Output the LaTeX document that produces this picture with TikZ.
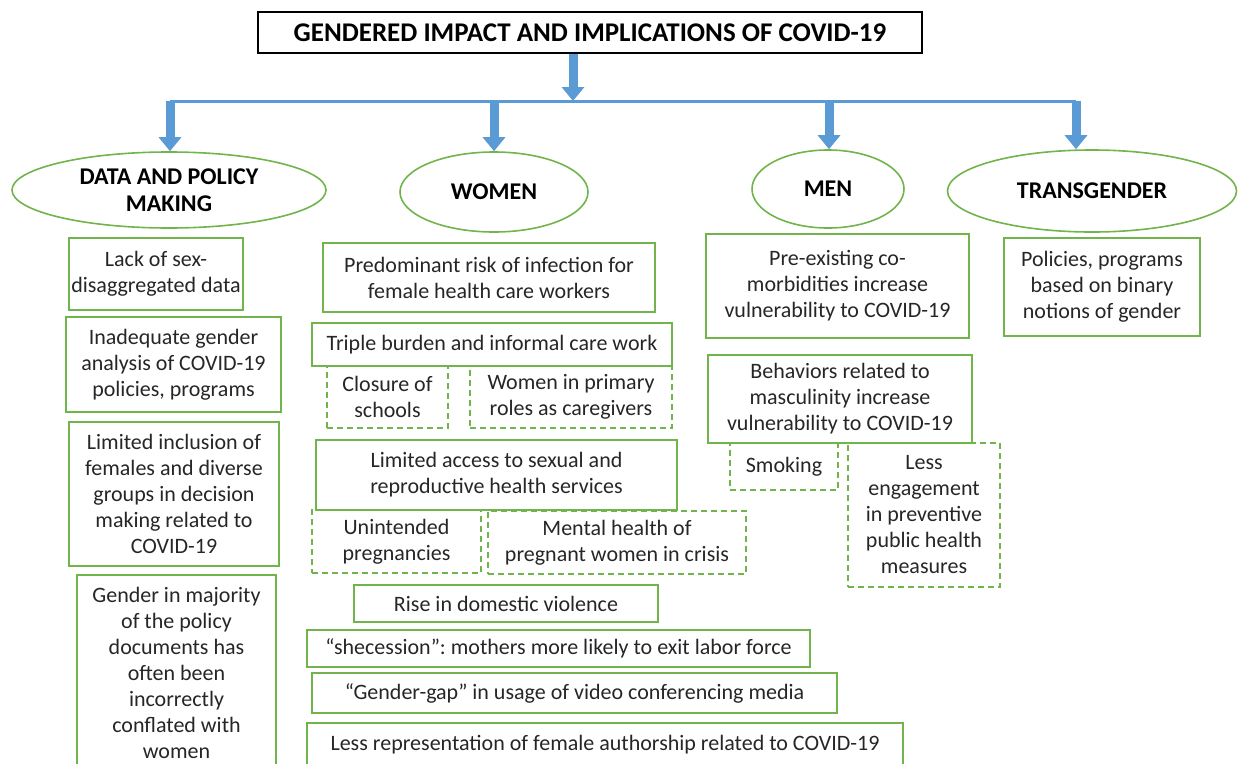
\documentclass[tikz,border=0pt]{standalone}
\usepackage{fontspec}
\setmainfont{Carlito}
\frenchspacing
\usetikzlibrary{shapes.geometric,arrows.meta}
\definecolor{boxgreen}{RGB}{112,180,75}
\definecolor{arrowblue}{RGB}{91,155,213}

\begin{document}
\begin{tikzpicture}[x=1pt,y=-1pt,
  txt/.style={font=\fontsize{22}{26}\selectfont, align=center, text=black!85},
  gbox/.style={txt, draw=boxgreen, line width=2pt, rectangle, inner sep=2pt},
  dbox/.style={gbox, dash pattern=on 6pt off 4pt},
  oval/.style={draw=boxgreen, line width=1.6pt, ellipse, inner sep=0pt, align=center, font=\fontsize{24}{27}\selectfont\bfseries},
  bluearrow/.style={draw=arrowblue, line width=9pt, -{Triangle[width=22pt,length=14pt]}}]
\useasboundingbox (0,0) rectangle (1241,763);

% title
\node[draw=black, line width=1.5pt, minimum width=664pt, minimum height=41pt, font=\fontsize{27}{30}\selectfont\bfseries] (title) at (590,32.5) {GENDERED IMPACT AND IMPLICATIONS OF COVID-19};

% groups
\node[oval, minimum width=314pt, minimum height=76pt] (data) at (169,190) {DATA AND POLICY\\MAKING};
\node[oval, minimum width=188pt, minimum height=80pt] (women) at (494,192) {WOMEN};
\node[oval, minimum width=152pt, minimum height=78pt] (men) at (828,189) {MEN};
\node[oval, minimum width=289pt, minimum height=82pt] (trans) at (1092,191) {TRANSGENDER};

% data and policy making
\node[gbox, minimum width=172pt, minimum height=72pt] (dlack) at (156,274) {Lack of sex-\\disaggregated data};
\node[gbox, minimum width=215pt, minimum height=95pt] (danalysis) at (173.5,364.5) {Inadequate gender\\analysis of COVID-19\\policies, programs};
\node[gbox, minimum width=210pt, minimum height=144pt] (dinclusion) at (174,494) {Limited inclusion of\\females and diverse\\groups in decision\\making related to\\COVID-19};
\node[gbox, minimum width=199pt, minimum height=195pt] (dconflated) at (176.5,672.5) {Gender in majority\\of the policy\\documents has\\often been\\incorrectly\\conflated with\\women};

% women
\node[gbox, minimum width=332pt, minimum height=69pt] (wrisk) at (489,277.5) {Predominant risk of infection for\\female health care workers};
\node[gbox, minimum width=360pt, minimum height=43pt] (wtriple) at (492,344.5) {Triple burden and informal care work};
\node[dbox, minimum width=121pt, minimum height=62pt] (wschools) at (387.5,397) {Closure of\\schools};
\node[dbox, minimum width=202pt, minimum height=62pt] (wcaregivers) at (571,397) {Women in primary\\roles as caregivers};
\node[gbox, minimum width=361pt, minimum height=70pt] (waccess) at (496.5,475) {Limited access to sexual and\\reproductive health services};
\node[dbox, minimum width=169pt, minimum height=63pt] (wpregnancies) at (396.5,541.5) {Unintended\\pregnancies};
\node[dbox, minimum width=258pt, minimum height=63pt] (wmental) at (617,542.5) {Mental health of\\pregnant women in crisis};
\node[gbox, minimum width=304pt, minimum height=37pt] (wviolence) at (506,603.5) {Rise in domestic violence};
\node[gbox, minimum width=503pt, minimum height=37pt] (wshecession) at (558.5,648.5) {“shecession”: mothers more likely to exit labor force};
\node[gbox, minimum width=525pt, minimum height=40pt] (wgap) at (574.5,693) {“Gender-gap” in usage of video conferencing media};
\node[gbox, minimum width=596pt, minimum height=44pt] (wauthorship) at (605,745) {Less representation of female authorship related to COVID-19};

% men
\node[gbox, minimum width=263pt, minimum height=104pt] (mcomorbid) at (837.5,286) {Pre-existing co-\\morbidities increase\\vulnerability to COVID-19};
\node[gbox, minimum width=264pt, minimum height=88pt] (mbehavior) at (840,399) {Behaviors related to\\masculinity increase\\vulnerability to COVID-19};
\node[dbox, minimum width=108pt, minimum height=47pt] (msmoking) at (784,466.5) {Smoking};
\node[dbox, minimum width=152pt, minimum height=144pt] (mengage) at (924,515) {Less\\engagement\\in preventive\\public health\\measures};

% transgender
\node[gbox, minimum width=196pt, minimum height=98pt] (tbinary) at (1102,287) {Policies, programs\\based on binary\\notions of gender};

% connectors
\coordinate (hub) at (573,101);
\coordinate (jdata) at (170,101);
\coordinate (jwomen) at (494,101);
\coordinate (jmen) at (829,101);
\coordinate (jtrans) at (1076,101);
\path[draw,arrowblue,line width=3pt] (jdata) -- (jtrans);
\path[bluearrow] (title.south -| hub) -- (hub);
\path[bluearrow] (jdata) -- (jdata |- data.north);
\path[bluearrow] (jwomen) -- (jwomen |- women.north);
\path[bluearrow] (jmen) -- (jmen |- men.north);
\path[bluearrow] (jtrans) -- (jtrans |- trans.north);

\end{tikzpicture}
\end{document}
